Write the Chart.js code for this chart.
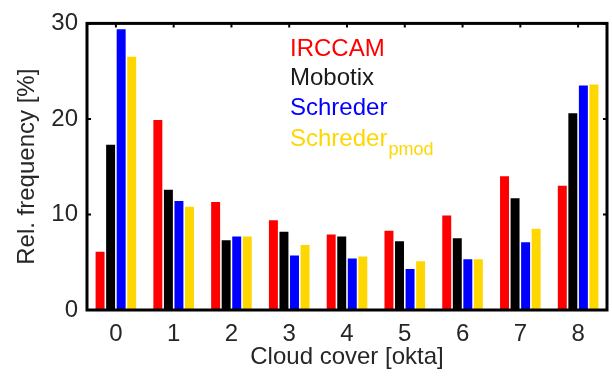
<!DOCTYPE html>
<html>
<head>
<meta charset="UTF-8">
<title>Cloud cover frequency</title>
<script src="https://cdn.jsdelivr.net/npm/chart.js"></script>
<style>
  html, body { margin: 0; padding: 0; background: #fff; }
  #wrap { width: 612px; height: 378px; position: relative; }
</style>
</head>
<body>
<div id="wrap"><canvas id="chart"></canvas></div>
<script>
// data
const categories = ['0', '1', '2', '3', '4', '5', '6', '7', '8'];
const seriesNames = ['IRCCAM', 'Mobotix', 'Schreder', 'Schreder'];
const irccam = [6.1, 19.9, 11.3, 9.4, 7.9, 8.3, 9.9, 14.0, 13.0];
const mobotix = [17.3, 12.6, 7.3, 8.2, 7.7, 7.2, 7.5, 11.7, 20.6];
const schreder = [29.4, 11.4, 7.7, 5.7, 5.4, 4.3, 5.3, 7.1, 23.5];
const schrederPmod = [26.5, 10.8, 7.7, 6.8, 5.6, 5.1, 5.3, 8.5, 23.6];
const yTicks = [0, 10, 20, 30];

const colors = ['#ff0000', '#000000', '#0000ff', '#ffd700'];
const textColor = '#262626';
const font = '"Liberation Sans", Arial, Helvetica, sans-serif';

// box around the plot + inward ticks, like matlab
const boxPlugin = {
  id: 'box',
  afterDatasetsDraw(chart) {
    const { ctx, chartArea: a, scales } = chart;
    ctx.save();
    ctx.strokeStyle = '#000';
    ctx.lineWidth = 2;
    const len = 4;
    ctx.beginPath();
    yTicks.forEach(v => {
      const y = scales.y.getPixelForValue(v);
      ctx.moveTo(a.left, y); ctx.lineTo(a.left + len, y);
      ctx.moveTo(a.right, y); ctx.lineTo(a.right - len, y);
    });
    categories.forEach((c, i) => {
      const x = scales.x.getPixelForValue(i);
      ctx.moveTo(x, a.top); ctx.lineTo(x, a.top + len);
    });
    ctx.stroke();
    ctx.lineWidth = 3;
    ctx.strokeRect(a.left, a.top, a.right - a.left, a.bottom - a.top);
    ctx.restore();
  }
};

// text legend inside the axes
const textLegend = {
  id: 'textLegend',
  afterDraw(chart) {
    const { ctx } = chart;
    ctx.save();
    ctx.font = '24px ' + font;
    ctx.textBaseline = 'alphabetic';
    ctx.textAlign = 'left';
    const x = 290;
    const baselines = [56, 85, 115, 146];
    seriesNames.forEach((name, i) => {
      ctx.fillStyle = i === 1 ? '#1a1a1a' : colors[i];
      ctx.fillText(name, x, baselines[i]);
    });
    const w = ctx.measureText(seriesNames[3]).width;
    ctx.font = '18px ' + font;
    ctx.fillStyle = colors[3];
    ctx.fillText('pmod', x + w + 1, 155);
    ctx.restore();
  }
};

const datasets = [irccam, mobotix, schreder, schrederPmod].map((d, i) => ({
  label: seriesNames[i],
  data: d,
  backgroundColor: colors[i],
  borderWidth: 0,
  categoryPercentage: 0.73,
  barPercentage: 0.85
}));

new Chart(document.getElementById('chart'), {
  type: 'bar',
  data: { labels: categories, datasets: datasets },
  options: {
    responsive: true,
    maintainAspectRatio: false,
    animation: false,
    layout: { padding: { left: 0, right: 5, top: 17, bottom: 0 } },
    plugins: { legend: { display: false }, tooltip: { enabled: false } },
    scales: {
      x: {
        grid: { display: false, drawTicks: false },
        border: { display: false },
        ticks: { color: textColor, font: { family: font, size: 24 }, padding: 10 },
        title: {
          display: true, text: 'Cloud cover [okta]', color: textColor,
          font: { family: font, size: 24 }, padding: { top: 0, bottom: 6 }
        },
        afterFit(s) { s.height = 68; }
      },
      y: {
        min: 0, max: 30,
        grid: { display: false, drawTicks: false },
        border: { display: false },
        ticks: { stepSize: 10, color: textColor, font: { family: font, size: 24 }, padding: 9 },
        title: {
          display: true, text: 'Rel. frequency [%]', color: textColor,
          font: { family: font, size: 24 }, padding: { top: 13, bottom: 0 }
        },
        afterFit(s) { s.width = 87; }
      }
    }
  },
  plugins: [boxPlugin, textLegend]
});
</script>
</body>
</html>
